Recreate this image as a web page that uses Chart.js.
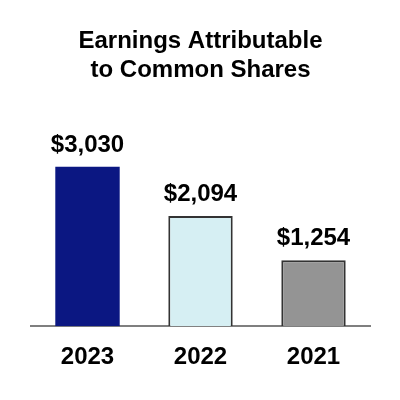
<!DOCTYPE html>
<html>
<head>
<meta charset="utf-8">
<script src="https://cdn.jsdelivr.net/npm/chart.js@4"></script>
<style>
  html, body { margin: 0; padding: 0; background: #fff; }
  #wrap { width: 400px; height: 400px; }
</style>
</head>
<body>
<div id="wrap"><canvas id="chart"></canvas></div>
<script>
const years = ['2023', '2022', '2021'];
const earnings = [3030, 2094, 1254];
const valueLabels = ['$3,030', '$2,094', '$1,254'];
const titleLines = ['Earnings Attributable', 'to Common Shares'];

const fontFamily = '"Liberation Sans", Arial, sans-serif';

// draws the $ amounts above each bar
const valueLabelPlugin = {
    id: 'valueLabels',
    afterDatasetsDraw(chart) {
        const ctx = chart.ctx;
        const meta = chart.getDatasetMeta(0);
        ctx.save();
        ctx.font = 'bold 24px ' + fontFamily;
        ctx.fillStyle = '#000';
        ctx.textAlign = 'center';
        ctx.textBaseline = 'alphabetic';
        meta.data.forEach((bar, i) => {
            ctx.fillText(valueLabels[i], bar.x, bar.y - 15);
        });
        ctx.restore();
    }
};

new Chart(document.getElementById('chart'), {
    type: 'bar',
    data: {
        labels: years,
        datasets: [{
            data: earnings,
            backgroundColor: ['#0b1782', '#d6eff3', '#949494'],
            borderColor: ['#0b1782', '#333333', '#333333'],
            borderWidth: [0, 2, 2],
            borderSkipped: 'bottom',
            categoryPercentage: 1,
            barPercentage: 0.57
        }]
    },
    options: {
        responsive: true,
        maintainAspectRatio: false,
        animation: false,
        layout: {
            padding: { top: 27, bottom: 11, left: 31, right: 30 }
        },
        plugins: {
            legend: { display: false },
            tooltip: { enabled: false },
            title: {
                display: true,
                text: titleLines,
                color: '#000',
                font: { family: fontFamily, size: 24, weight: 'bold', lineHeight: 1.2 },
                padding: { top: 0, bottom: 31 }
            }
        },
        scales: {
            x: {
                grid: { display: false, drawTicks: false },
                border: { display: true, color: '#7f7f7f', width: 2 },
                ticks: {
                    color: '#000',
                    padding: 17,
                    font: { family: fontFamily, size: 24, weight: 'bold' }
                }
            },
            y: {
                display: false,
                min: 0,
                max: 4000
            }
        }
    },
    plugins: [valueLabelPlugin]
});
</script>
</body>
</html>
